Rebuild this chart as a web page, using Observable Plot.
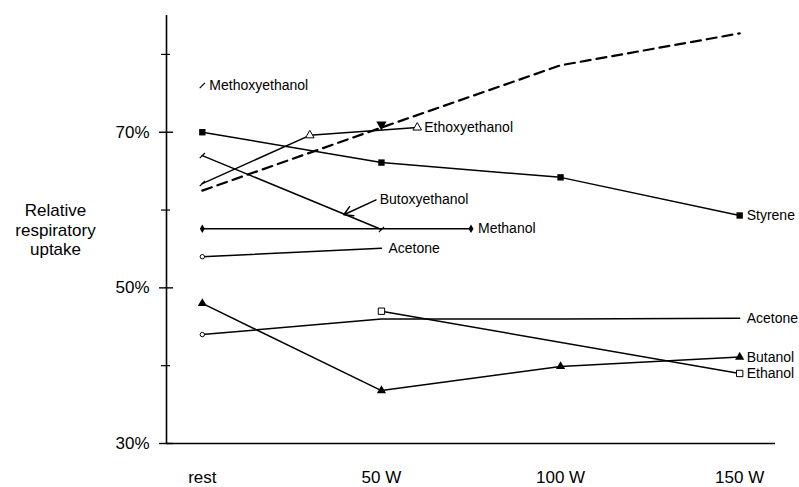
<!DOCTYPE html>
<html>
<head>
<meta charset="utf-8">
<script src="https://cdn.jsdelivr.net/npm/d3@7"></script>
<script src="https://cdn.jsdelivr.net/npm/@observablehq/plot@0.6"></script>
<style>
  html, body { margin: 0; padding: 0; background: #fff; }
  svg { display: block; }
</style>
</head>
<body>
<div id="chart"></div>
<script>
// ---- data ----
const workloads = [0, 50, 100, 150];
const workloadLabels = ["rest", "50 W", "100 W", "150 W"];
const yTicksMajor = [30, 50, 70];
const yTicksMinor = [40, 60, 80];

const styreneX = [0, 50, 100, 150];
const styreneY = [70, 66.1, 64.2, 59.3];
const ethoxyX = [0, 30, 60];
const ethoxyY = [63.4, 69.6, 70.6];
const butoxyX = [0, 50];
const butoxyY = [67.0, 57.5];
const methanolX = [0, 75];
const methanolY = [57.6, 57.6];
const acetoneAX = [0, 50];
const acetoneAY = [54.0, 55.1];
const acetoneBX = [0, 50, 100, 150];
const acetoneBY = [44.0, 46.0, 46.0, 46.1];
const butanolX = [0, 50, 100, 150];
const butanolY = [48.0, 36.8, 39.9, 41.1];
const ethanolX = [50, 150];
const ethanolY = [47.0, 39.0];
const methoxyX = [0];
const methoxyY = [76.0];
const dashedX = [0, 50, 100, 150];
const dashedY = [62.5, 70.6, 78.6, 82.7];

const labelNames = ["Methoxyethanol", "Ethoxyethanol", "Styrene", "Methanol", "Acetone", "Acetone", "Butanol", "Ethanol"];
const labelX = [0, 60, 150, 75, 50, 150, 150, 150];
const labelY = [76.0, 70.6, 59.3, 57.6, 55.1, 46.1, 41.1, 39.0];

const butoxyLabel = "Butoxyethanol";
const butoxyLabelX = 49.5;
const butoxyLabelY = 61.3;
const butoxyArrowTo = [39.5, 59.4];

const yTitle = "Relative\nrespiratory\nuptake";

// ---- build tables ----
function rows(name, xs, ys) { return xs.map((x, i) => ({series: name, x, y: ys[i]})); }
const solid = [
  ...rows("Styrene", styreneX, styreneY),
  ...rows("Ethoxyethanol", ethoxyX, ethoxyY),
  ...rows("Butoxyethanol", butoxyX, butoxyY),
  ...rows("Methanol", methanolX, methanolY),
  ...rows("AcetoneA", acetoneAX, acetoneAY),
  ...rows("AcetoneB", acetoneBX, acetoneBY),
  ...rows("Butanol", butanolX, butanolY),
  ...rows("Ethanol", ethanolX, ethanolY)
];
const dashed = rows("Dashed", dashedX, dashedY);
const labels = labelNames.map((t, i) => ({t, x: labelX[i], y: labelY[i]}));

const slash = {draw(ctx, size) { const r = Math.sqrt(size / Math.PI); ctx.moveTo(-r, r); ctx.lineTo(r, -r); }};

const font = "'Liberation Sans', Arial, Helvetica, sans-serif";

const chart = Plot.plot({
  width: 799,
  height: 487,
  marginLeft: 166,
  marginRight: 24,
  marginTop: 15,
  marginBottom: 44,
  style: {fontFamily: font, background: "#fff", color: "#000"},
  x: {domain: [-10, 160]},
  y: {domain: [30, 85]},
  marks: [
    // axes frame lines
    Plot.ruleX([-10], {stroke: "#000", strokeWidth: 1.6}),
    Plot.ruleY([30], {stroke: "#000", strokeWidth: 1.6}),
    Plot.axisY({ticks: yTicksMajor, tickSize: 14, dx: 7, tickFormat: () => "", label: null, strokeWidth: 1.4}),
    Plot.axisY({ticks: yTicksMinor, tickSize: 9, dx: 4, tickFormat: () => "", label: null, strokeWidth: 1.2}),
    Plot.axisY({ticks: yTicksMajor, tickSize: 0, tickPadding: 17, tickFormat: d => d + "%", label: null, fontSize: 17}),
    Plot.axisX({ticks: workloads, tickSize: 0, tickPadding: 27, tickFormat: d => workloadLabels[workloads.indexOf(d)], label: null, fontSize: 17}),
    Plot.text([yTitle], {frameAnchor: "left", dx: -111, fontSize: 17, lineHeight: 1.15, textAnchor: "middle"}),

    // lines
    Plot.line(solid, {x: "x", y: "y", z: "series", stroke: "#000", strokeWidth: 1.5}),
    Plot.line(dashed, {x: "x", y: "y", stroke: "#000", strokeWidth: 2.2, strokeDasharray: "10,6"}),

    // markers
    Plot.dot(rows("Styrene", styreneX, styreneY), {x: "x", y: "y", symbol: "square", r: 3.6, fill: "#000"}),
    Plot.dot(rows("Ethoxyethanol", ethoxyX.slice(1), ethoxyY.slice(1)), {x: "x", y: "y", symbol: "triangle", r: 3.2, fill: "#fff", stroke: "#000", strokeWidth: 1}),
    Plot.dot(rows("Methanol", methanolX, methanolY), {x: "x", y: "y", symbol: "diamond", r: 2.6, fill: "#000"}),
    Plot.dot(rows("Butanol", butanolX, butanolY), {x: "x", y: "y", symbol: "triangle", r: 3.4, fill: "#000"}),
    Plot.dot(rows("Ethanol", ethanolX, ethanolY), {x: "x", y: "y", symbol: "square", r: 3.6, fill: "#fff", stroke: "#000", strokeWidth: 1}),
    Plot.dot([...rows("AcetoneA", [0], [acetoneAY[0]]), ...rows("AcetoneB", [0], [acetoneBY[0]])], {x: "x", y: "y", symbol: "circle", r: 2.2, fill: "#fff", stroke: "#000", strokeWidth: 1}),
    Plot.dot([...rows("Methoxyethanol", methoxyX, methoxyY), ...rows("Butoxyethanol", butoxyX, butoxyY), ...rows("Ethoxyethanol", [0], [ethoxyY[0]])], {x: "x", y: "y", symbol: slash, r: 2.6, stroke: "#000", strokeWidth: 1.2}),
    Plot.dot(rows("Dashed", [dashedX[1]], [dashedY[1]]), {x: "x", y: "y", dy: -3, symbol: "triangle", rotate: 180, r: 3.8, fill: "#000"}),

    // labels
    Plot.text(labels, {x: "x", y: "y", text: "t", dx: 7, textAnchor: "start", fontSize: 14, fill: "#000"}),
    Plot.text([butoxyLabel], {x: butoxyLabelX, y: butoxyLabelY, textAnchor: "start", fontSize: 14, fill: "#000"}),
    Plot.arrow([0], {x1: butoxyLabelX - 1, y1: butoxyLabelY, x2: butoxyArrowTo[0], y2: butoxyArrowTo[1], stroke: "#000", strokeWidth: 1.5, headLength: 10})
  ]
});
document.getElementById("chart").appendChild(chart);
</script>
</body>
</html>
